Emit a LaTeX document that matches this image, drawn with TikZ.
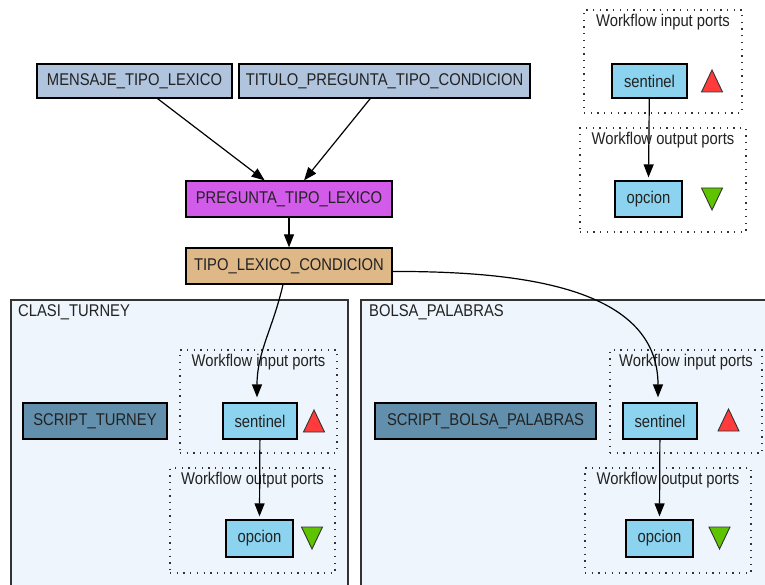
\documentclass[tikz,border=0pt]{standalone}
\usepackage{fontspec}
\setmainfont{Liberation Sans}[FakeStretch=0.87]
\usetikzlibrary{arrows.meta}
\definecolor{srcblue}{HTML}{B0C4DE}
\definecolor{orchidfill}{HTML}{D25BEA}
\definecolor{tanfill}{HTML}{DEB887}
\definecolor{scriptfill}{HTML}{628FAB}
\definecolor{portfill}{HTML}{8BD3EE}
\definecolor{clusterfill}{HTML}{EEF5FD}
\definecolor{trired}{HTML}{FF3B3B}
\definecolor{trigreen}{HTML}{5EC400}
\definecolor{inkgray}{HTML}{222222}
\tikzset{
  box/.style={draw=black, line width=1.2pt, rectangle, inner sep=0pt,
    font=\fontsize{17}{20}\selectfont, text=inkgray},
  srcbox/.style={box, fill=srcblue, minimum height=34pt},
  portnode/.style={box, fill=portfill},
  scriptbox/.style={box, fill=scriptfill, minimum height=36pt},
  cluster/.style={draw=black!80, line width=1.3pt, fill=clusterfill},
  portgroup/.style={draw=black!80, line width=1.4pt,
    dash pattern=on 1.3pt off 5.4pt, rectangle, inner sep=0pt},
  grouplabel/.style={font=\fontsize{17}{20}\selectfont, text=inkgray, inner sep=0pt},
  arr/.style={-{Triangle[length=13pt,width=10pt]}, line width=1.2pt, black},
  inport/.pic={\filldraw[fill=trired, draw=black!80, line width=0.9pt]
    (-10.5,11) -- (10.5,11) -- (0,-11) -- cycle;},
  outport/.pic={\filldraw[fill=trigreen, draw=black!80, line width=0.9pt]
    (-10.5,-11) -- (10.5,-11) -- (0,11) -- cycle;},
}
\begin{document}
\begin{tikzpicture}[x=1pt, y=-1pt]
\useasboundingbox (0,0) rectangle (765,585);
\clip (0,0) rectangle (765,585);
\fill[white] (0,0) rectangle (765,585);

% nested workflow clusters
\draw[cluster] (11,300) rectangle (348,600);
\node[grouplabel, anchor=north west] (c1lab) at (18,304) {CLASI\_TURNEY};
\draw[cluster] (361,300) rectangle (790,600);
\node[grouplabel, anchor=north west] (c2lab) at (369,304) {BOLSA\_PALABRAS};

% port groups
\node[portgroup, minimum width=158pt, minimum height=103pt] (ip0) at (663,61.5) {};
\node[portgroup, minimum width=166pt, minimum height=104pt] (op0) at (663,180) {};
\node[portgroup, minimum width=157pt, minimum height=103pt] (ip1) at (258.5,401.5) {};
\node[portgroup, minimum width=165pt, minimum height=105pt] (op1) at (252.5,520.5) {};
\node[portgroup, minimum width=152pt, minimum height=103pt] (ip2) at (686,401.5) {};
\node[portgroup, minimum width=166pt, minimum height=105pt] (op2) at (668,520.5) {};
\foreach \g/\t in {ip0/input, op0/output, ip1/input, op1/output, ip2/input, op2/output}
  \node[grouplabel] (\g lab) at ([yshift=-12.5pt]\g.north) {Workflow \t\ ports};

% processors
\node[srcbox, minimum width=195pt] (men) at (134.5,81) {MENSAJE\_TIPO\_LEXICO};
\node[srcbox, minimum width=291pt] (tit) at (384.5,81) {TITULO\_PREGUNTA\_TIPO\_CONDICION};
\node[box, fill=orchidfill, minimum width=206pt, minimum height=36pt] (preg) at (289,199) {PREGUNTA\_TIPO\_LEXICO};
\node[box, fill=tanfill, minimum width=206pt, minimum height=36pt] (tlc) at (289,266) {TIPO\_LEXICO\_CONDICION};

\node[portnode, minimum width=75pt, minimum height=34pt] (s0) at (649.5,81) {sentinel};
\node[portnode, minimum width=67pt, minimum height=36pt] (o0) at (648.5,199) {opcion};

\node[scriptbox, minimum width=144pt] (sc1) at (95,421) {SCRIPT\_TURNEY};
\node[portnode, minimum width=74pt, minimum height=36pt] (s1) at (260,421) {sentinel};
\node[portnode, minimum width=67pt, minimum height=37pt] (o1) at (259.5,538.5) {opcion};

\node[scriptbox, minimum width=221pt] (sc2) at (485.5,421) {SCRIPT\_BOLSA\_PALABRAS};
\node[portnode, minimum width=74pt, minimum height=36pt] (s2) at (660,421) {sentinel};
\node[portnode, minimum width=67pt, minimum height=37pt] (o2) at (659.5,538.5) {opcion};

% port markers
\pic at (712,81) {inport};
\pic at (712,199) {outport};
\pic at (314,421) {inport};
\pic at (312,538) {outport};
\pic at (728.5,420) {inport};
\pic at (719.5,538) {outport};

% data links
\draw[arr] (men) -- (preg);
\draw[arr] (tit) -- (preg);
\draw[arr] (preg) -- (tlc);
\draw[arr] (s0) -- ([yshift=3pt]o0.north);
\draw[arr] ([xshift=-6pt]tlc.south) to[out=-103, in=90] ([xshift=-3pt, yshift=5pt]s1.north);
\draw[arr] (tlc.-3) to[out=0, in=90] ([xshift=-2pt, yshift=5pt]s2.north);
\draw[arr] (s1) -- ([yshift=3pt]o1.north);
\draw[arr] (s2) -- ([yshift=3pt]o2.north);
\end{tikzpicture}
\end{document}
